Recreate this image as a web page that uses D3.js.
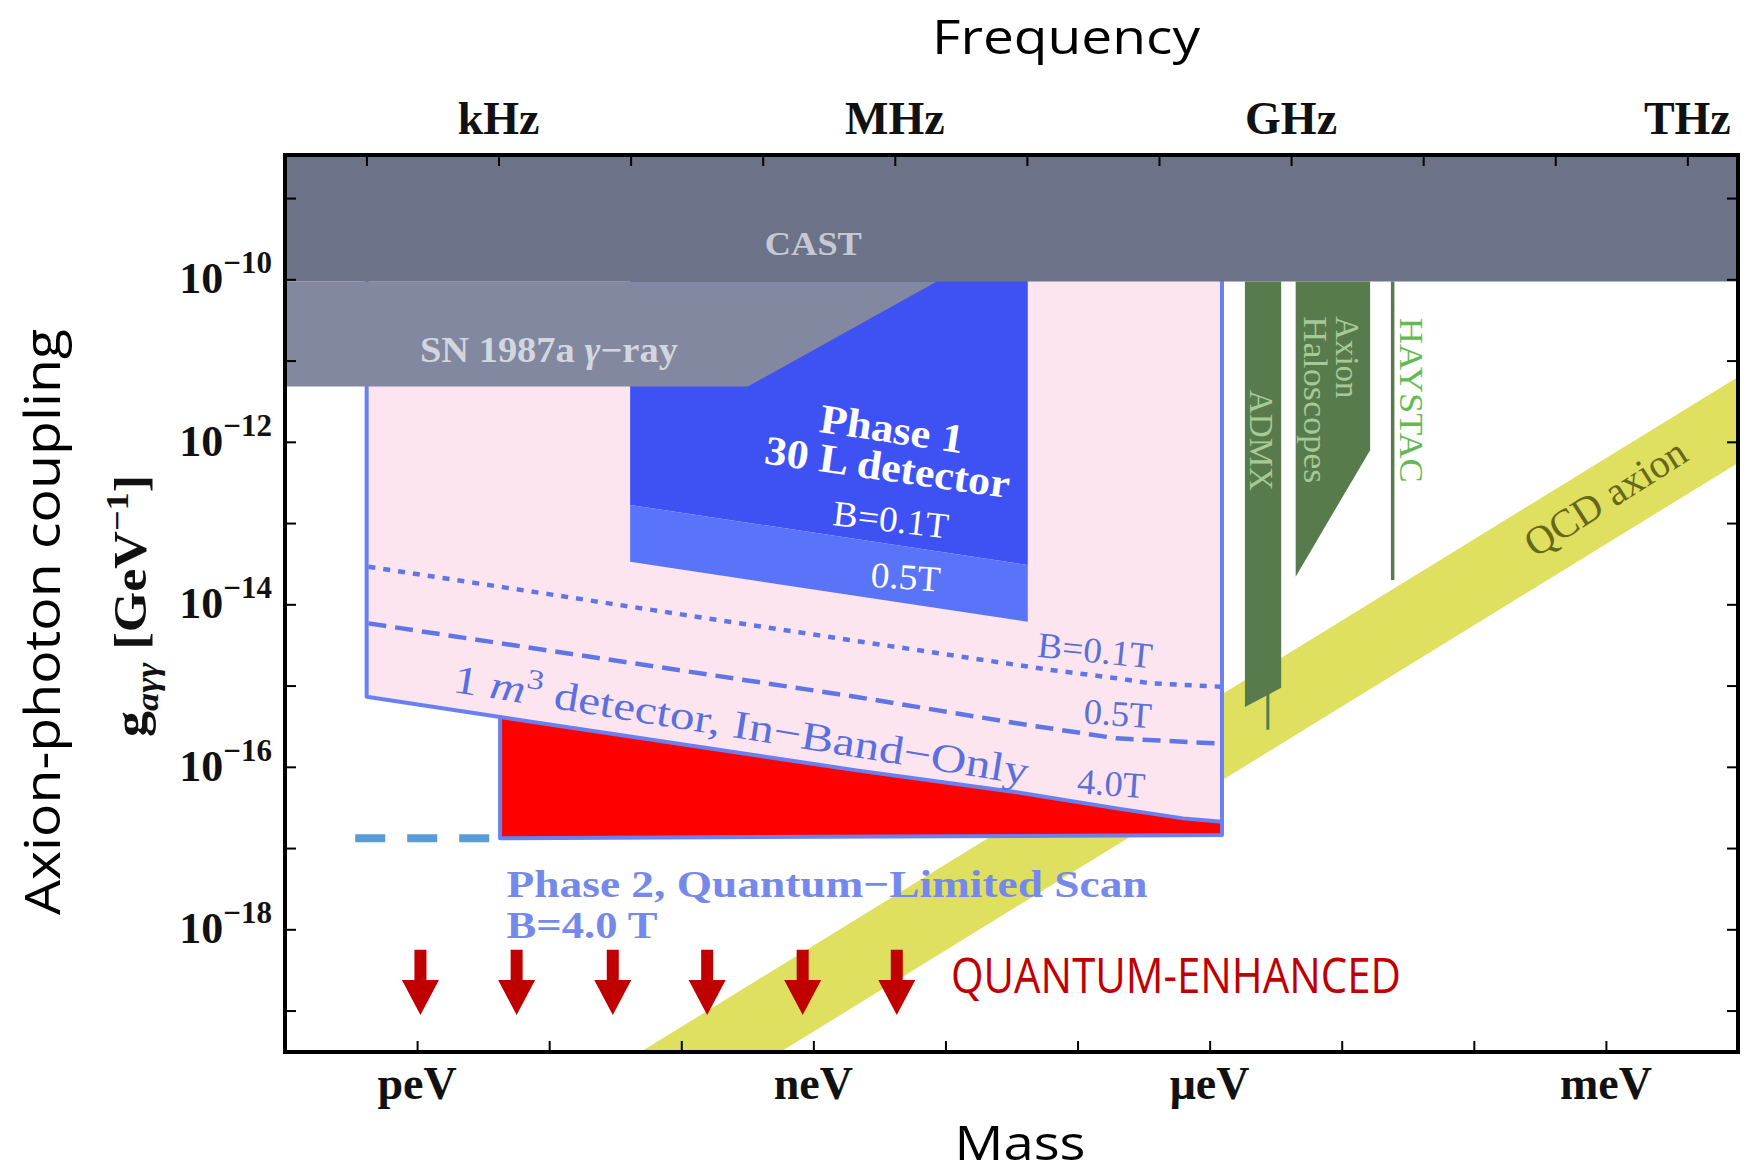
<!DOCTYPE html>
<html lang="en">
<head>
<meta charset="utf-8">
<title>Axion-photon coupling</title>
<script src="https://cdnjs.cloudflare.com/ajax/libs/d3/7.8.5/d3.min.js"></script>
<style>
  html, body { margin: 0; padding: 0; background: #fff; }
  svg { display: block; }
</style>
</head>
<body>
<script>
// mass in eV, coupling in GeV^-1
var massDomain = [1e-13, 1e-2];
var couplingDomain = [3.09e-20, 3.39e-9];
var hEv = 4.1357e-15; // eV per Hz, for the frequency axis

var massTickText = ["peV", "neV", "\u03bceV", "meV"];
var massTickValues = [1e-12, 1e-9, 1e-6, 1e-3];
var freqTickText = ["kHz", "MHz", "GHz", "THz"];
var freqTickValues = [1e3, 1e6, 1e9, 1e12];
var couplingTickExp = [-10, -12, -14, -16, -18];

// exclusions
var castLimit = 9.4e-11;
var snMass = [1e-13, 3.2e-10, 8.6e-9];
var snCoupling = [4.8e-12, 4.8e-12, 9.4e-11];

// phase 1, 30 L detector
var phase1Mass = [4.1e-11, 4.2e-8];
var phase1B01 = [1.67e-13, 3.05e-14];
var phase1B05 = [3.34e-14, 6.1e-15];

// phase 2, 1 m^3 detector
var inBandMass = [4.15e-13, 4.25e-12, 2.07e-9, 3.46e-8, 1.98e-7, 6.3e-7, 1.24e-6];
var inBand40T = [7.3e-16, 4.1e-16, 9.1e-17, 4.85e-17, 3.08e-17, 2.32e-17, 2.11e-17];
var scanMass = [4.25e-12, 1.24e-6];
var scanFloor = [1.32e-17, 1.45e-17];
var dotMass = [4.28e-13, 1.88e-9, 6.18e-8, 1.98e-7, 3.53e-7, 1.2e-6];
var inBand01T = [2.9e-14, 3.64e-15, 1.56e-15, 1.23e-15, 1.07e-15, 9.7e-16];
var dashMass = [4.28e-13, 2.07e-9, 3.46e-8, 1.98e-7, 1.2e-6];
var inBand05T = [5.83e-15, 7.3e-16, 3.43e-16, 2.24e-16, 1.93e-16];
var extMass = [3.4e-13, 3.56e-12];
var extCoupling = [1.32e-17, 1.32e-17];

// haloscopes
var admxMass = [1.85e-6, 3.48e-6];
var admxBottom = [5.43e-16, 9.4e-16];
var admxLineMass = 2.76e-6;
var admxLineBottom = 2.86e-16;
var haloMass = [4.48e-6, 1.64e-5];
var haloBottom = [2.19e-14, 7.9e-13];
var haystacMass = 2.43e-5;
var haystacBottom = 1.99e-14;

// QCD axion band
var qcdMass = [1e-13, 1e-2];
var qcdUpper = [6.3e-23, 6.3e-12];
var qcdLower = [5.5e-24, 5.5e-13];

// quantum-enhanced arrows
var arrowMass = [1.06e-12, 5.67e-12, 3.03e-11, 1.57e-10, 8.3e-10, 4.28e-9];
var arrowTop = 5.6e-19;
var arrowTip = 8.8e-20;

var W = 1751, H = 1176;
var L = 285, R = 1738, T = 155, B = 1052;
var serif = "'Liberation Serif', 'Times New Roman', serif";
var sans = "'Open Sans', 'Noto Sans', sans-serif";

var svg = d3.select("body").append("svg").attr("width", W).attr("height", H)
    .style("background", "#fff");

var x = d3.scaleLog().domain(massDomain).range([L, R]);
var y = d3.scaleLog().domain(couplingDomain).range([B, T]);
var xf = d3.scaleLog().domain([massDomain[0] / hEv, massDomain[1] / hEv]).range([L, R]);

var line = d3.line().x(function (d) { return x(d[0]) }).y(function (d) { return y(d[1]) });
var gTop = couplingDomain[1] * 2;

svg.append("clipPath").attr("id", "plot").append("rect")
    .attr("x", L).attr("y", T).attr("width", R - L).attr("height", B - T);
var plot = svg.append("g").attr("clip-path", "url(#plot)");

// QCD band
var band = qcdMass.map(function (m, i) { return [m, qcdUpper[i]] })
    .concat(qcdMass.map(function (m, i) { return [m, qcdLower[i]] }).reverse());
plot.append("path").attr("d", line(band) + "Z").attr("fill", "#dfe05f");

// phase 2 pink region
var curve = inBandMass.map(function (m, i) { return [m, inBand40T[i]] });
var pink = [[inBandMass[0], gTop], [inBandMass[inBandMass.length - 1], gTop]]
    .concat(curve.slice().reverse());
plot.append("path").attr("d", line(pink) + "Z").attr("fill", "#fde5ef");

// quantum limited scan (red)
var red = curve.slice(1).concat([[scanMass[1], scanFloor[1]], [scanMass[0], scanFloor[0]]]);
plot.append("path").attr("d", line(red) + "Z").attr("fill", "#ff0000");

// phase 1 bands
var p1a = [[phase1Mass[0], gTop], [phase1Mass[1], gTop], [phase1Mass[1], phase1B01[1]], [phase1Mass[0], phase1B01[0]]];
var p1b = [[phase1Mass[0], phase1B01[0]], [phase1Mass[1], phase1B01[1]], [phase1Mass[1], phase1B05[1]], [phase1Mass[0], phase1B05[0]]];
plot.append("path").attr("d", line(p1a) + "Z").attr("fill", "#3e52f4");
plot.append("path").attr("d", line(p1b) + "Z").attr("fill", "#5a74f9");

// dotted / dashed in-band curves
plot.append("path").attr("d", line(dotMass.map(function (m, i) { return [m, inBand01T[i]] })))
    .attr("fill", "none").attr("stroke", "#6076e6").attr("stroke-width", 4.5).attr("stroke-dasharray", "7,8");
plot.append("path").attr("d", line(dashMass.map(function (m, i) { return [m, inBand05T[i]] })))
    .attr("fill", "none").attr("stroke", "#6076e6").attr("stroke-width", 4.5).attr("stroke-dasharray", "18,9");

// outline of phase 2 + 4.0T curve
var outline = [[inBandMass[0], gTop], [inBandMass[0], inBand40T[0]], [scanMass[0], inBand40T[1]],
    [scanMass[0], scanFloor[0]], [scanMass[1], scanFloor[1]], [scanMass[1], gTop]];
plot.append("path").attr("d", line(outline)).attr("fill", "none")
    .attr("stroke", "#6a80f0").attr("stroke-width", 4).attr("stroke-linejoin", "round");
plot.append("path").attr("d", line(curve.slice(1))).attr("fill", "none")
    .attr("stroke", "#6a80f0").attr("stroke-width", 4);

// extension of the scan (light blue dashes)
plot.append("path").attr("d", line(extMass.map(function (m, i) { return [m, extCoupling[i]] })))
    .attr("fill", "none").attr("stroke", "#5b9bd5").attr("stroke-width", 8).attr("stroke-dasharray", "30,22");

// SN 1987a and CAST
var sn = [[snMass[0], castLimit]].concat([[snMass[2], snCoupling[2]], [snMass[1], snCoupling[1]], [snMass[0], snCoupling[0]]]);
plot.append("path").attr("d", line(sn) + "Z").attr("fill", "#82889f");
plot.append("path").attr("d", line([[massDomain[0], gTop], [massDomain[1], gTop], [massDomain[1], castLimit], [massDomain[0], castLimit]]) + "Z")
    .attr("fill", "#6c7287");

// haloscopes
var admx = [[admxMass[0], castLimit], [admxMass[1], castLimit], [admxMass[1], admxBottom[1]], [admxMass[0], admxBottom[0]]];
plot.append("path").attr("d", line(admx) + "Z").attr("fill", "#587b4c");
plot.append("path").attr("d", line([[admxLineMass, admxBottom[1]], [admxLineMass, admxLineBottom]]))
    .attr("stroke", "#587b4c").attr("stroke-width", 3);
var halo = [[haloMass[0], castLimit], [haloMass[1], castLimit], [haloMass[1], haloBottom[1]], [haloMass[0], haloBottom[0]]];
plot.append("path").attr("d", line(halo) + "Z").attr("fill", "#587b4c");
plot.append("path").attr("d", line([[haystacMass, castLimit], [haystacMass, haystacBottom]]))
    .attr("stroke", "#587b4c").attr("stroke-width", 3.5);

// labels: [mass, coupling, rotation, parts, size, weight, colour, anchor, textLength, font]
function addText(parent, parts, size) {
    var t = parent.append("text");
    parts.forEach(function (p) {
        var s = t.append("tspan").text(p.t);
        if (p.italic) s.attr("font-style", "italic");
        if (p.sup) s.attr("font-size", size * 0.7).attr("dy", -size * 0.4);
        if (p.sub) s.attr("font-size", size * 0.7).attr("dy", size * 0.25);
        if (p.back) s.attr("dy", p.back);
    });
    return t;
}

var labels = [
    [1e-9, 2.0e-10, 0, [{ t: "CAST" }], 34, "bold", "#c6c9d3", "middle", 97, serif],
    [1.05e-12, 9.7e-12, 0, [{ t: "SN 1987a " }, { t: "\u03b3", italic: 1 }, { t: "\u2212ray" }], 36, "bold", "#d3d6df", "start", 258, serif],
    [1.09e-9, 1.33e-12, 8.6, [{ t: "Phase 1" }], 41, "bold", "#ffffff", "start", 145, serif],
    [4.18e-10, 5.44e-13, 8.1, [{ t: "30 L detector" }], 41, "bold", "#ffffff", "start", 247, serif],
    [1.38e-9, 9.46e-14, 6.6, [{ t: "B=0.1T" }], 36, "normal", "#ffffff", "start", 116, serif],
    [2.68e-9, 1.65e-14, 4, [{ t: "0.5T" }], 36, "normal", "#ffffff", "start", 70, serif],
    [1.83e-12, 8.4e-16, 9.2, [{ t: "1 " }, { t: "m", italic: 1 }, { t: "3", sup: 1 }, { t: " detector, In\u2212Band\u2212Only", back: 40 * 0.4 }], 40, "normal", "#5a6fe0", "start", 582, serif],
    [4.9e-8, 2.26e-15, 5.8, [{ t: "B=0.1T" }], 36, "normal", "#5a6fd8", "start", 115, serif],
    [1.1e-7, 3.43e-16, 4, [{ t: "0.5T" }], 36, "normal", "#5a6fd8", "start", 68, serif],
    [9.8e-8, 4.72e-17, 4, [{ t: "4.0T" }], 36, "normal", "#5a6fd8", "start", 68, serif],
    [4.76e-12, 2.52e-18, 0, [{ t: "Phase 2, Quantum\u2212Limited Scan" }], 38, "bold", "#7589ec", "start", 641, serif],
    [4.76e-12, 7.9e-19, 0, [{ t: "B=4.0 T" }], 38, "bold", "#7589ec", "start", 151, serif],
    [2.02e-6, 1.04e-12, 90, [{ t: "ADMX" }], 34, "normal", "#a6ca96", "middle", 101, serif],
    [9.0e-6, 3.5e-11, 90, [{ t: "Axion" }], 34, "normal", "#a6ca96", "start", 82, serif],
    [5.2e-6, 3.5e-11, 90, [{ t: "Haloscopes" }], 34, "normal", "#a6ca96", "start", 167, serif],
    [2.76e-5, 3.36e-11, 90, [{ t: "HAYSTAC" }], 34, "normal", "#62bb52", "start", 165, serif],
    [2.9e-4, 3.7e-14, -32.4, [{ t: "QCD axion" }], 40, "normal", "#67671c", "start", 184, serif],
    [1.1e-8, 1.64e-19, 0, [{ t: "QUANTUM-ENHANCED" }], 50, "normal", "#c00000", "start", 450, sans]
];

labels.forEach(function (d) {
    var g = svg.append("g").attr("transform", "translate(" + x(d[0]) + "," + y(d[1]) + ") rotate(" + d[2] + ")");
    addText(g, d[3], d[4])
        .attr("font-family", d[9]).attr("font-size", d[4]).attr("font-weight", d[5])
        .attr("fill", d[6]).attr("text-anchor", d[7])
        .attr("textLength", d[8]).attr("lengthAdjust", "spacingAndGlyphs");
});

// arrows
var ah = 35, aw = 18.5, sw = 6;
svg.selectAll(".arrow").data(arrowMass).enter().append("path").attr("class", "arrow")
    .attr("fill", "#c00000")
    .attr("d", function (m) {
        var cx = x(m), top = y(arrowTop), tip = y(arrowTip), hs = tip - ah;
        return "M" + (cx - sw) + "," + top + "H" + (cx + sw) + "V" + hs + "H" + (cx + aw) +
            "L" + cx + "," + tip + "L" + (cx - aw) + "," + hs + "H" + (cx - sw) + "Z";
    });

// axes
var cDec = d3.range(-19, -8).map(function (e) { return Math.pow(10, e) });
var mDec = d3.range(-12, -2).map(function (e) { return Math.pow(10, e) });
var fDec = d3.range(2, 13).map(function (e) { return Math.pow(10, e) });

function ticks(g) {
    g.select(".domain").remove();
    g.selectAll("line").attr("stroke", "#000").attr("stroke-width", 2);
}
svg.append("g").attr("transform", "translate(" + L + ",0)")
    .call(d3.axisLeft(y).tickValues(cDec).tickSize(-11).tickFormat("")).call(ticks);
svg.append("g").attr("transform", "translate(" + R + ",0)")
    .call(d3.axisRight(y).tickValues(cDec).tickSize(-11).tickFormat("")).call(ticks);
svg.append("g").attr("transform", "translate(0," + B + ")")
    .call(d3.axisBottom(x).tickValues(mDec).tickSize(-11).tickFormat("")).call(ticks);
svg.append("g").attr("transform", "translate(0," + T + ")")
    .call(d3.axisTop(xf).tickValues(fDec).tickSize(-11).tickFormat("")).call(ticks);

svg.append("rect").attr("x", L).attr("y", T).attr("width", R - L).attr("height", B - T)
    .attr("fill", "none").attr("stroke", "#000").attr("stroke-width", 4);

// tick labels
couplingTickExp.forEach(function (e) {
    var t = svg.append("text").attr("x", L - 13).attr("y", y(Math.pow(10, e)) + 14)
        .attr("text-anchor", "end").attr("font-family", serif).attr("font-weight", "bold")
        .attr("font-size", 44).attr("fill", "#111");
    t.append("tspan").text("10");
    t.append("tspan").text("\u2212" + (-e)).attr("font-size", 31).attr("dy", -20);
});
massTickValues.forEach(function (m, i) {
    svg.append("text").attr("x", x(m)).attr("y", 1099).attr("text-anchor", "middle")
        .attr("font-family", serif).attr("font-weight", "bold").attr("font-size", 46)
        .attr("fill", "#111").text(massTickText[i]);
});
freqTickValues.forEach(function (f, i) {
    svg.append("text").attr("x", xf(f)).attr("y", 134).attr("text-anchor", "middle")
        .attr("font-family", serif).attr("font-weight", "bold").attr("font-size", 46)
        .attr("fill", "#111").text(freqTickText[i]);
});

// axis titles
svg.append("text").attr("x", 1066).attr("y", 54).attr("text-anchor", "middle")
    .attr("font-family", sans).attr("font-size", 48).attr("textLength", 268)
    .attr("lengthAdjust", "spacingAndGlyphs").text("Frequency");
svg.append("text").attr("x", 1020).attr("y", 1160).attr("text-anchor", "middle")
    .attr("font-family", sans).attr("font-size", 47).attr("textLength", 131)
    .attr("lengthAdjust", "spacingAndGlyphs").text("Mass");
svg.append("text").attr("transform", "translate(60,622) rotate(-90)").attr("text-anchor", "middle")
    .attr("font-family", sans).attr("font-size", 50).attr("textLength", 586)
    .attr("lengthAdjust", "spacingAndGlyphs").text("Axion-photon coupling");

var gl = svg.append("g").attr("transform", "translate(146,606) rotate(-90)");
var gt = addText(gl, [{ t: "g" }, { t: "a\u03b3\u03b3", italic: 1, sub: 1 }, { t: " [GeV", back: -46 * 0.25 },
    { t: "\u22121", sup: 1 }, { t: "]", back: 46 * 0.4 }], 46);
gt.attr("font-family", serif).attr("font-weight", "bold").attr("font-size", 46)
    .attr("text-anchor", "middle").attr("fill", "#111")
    .attr("textLength", 262).attr("lengthAdjust", "spacingAndGlyphs");
</script>
</body>
</html>
